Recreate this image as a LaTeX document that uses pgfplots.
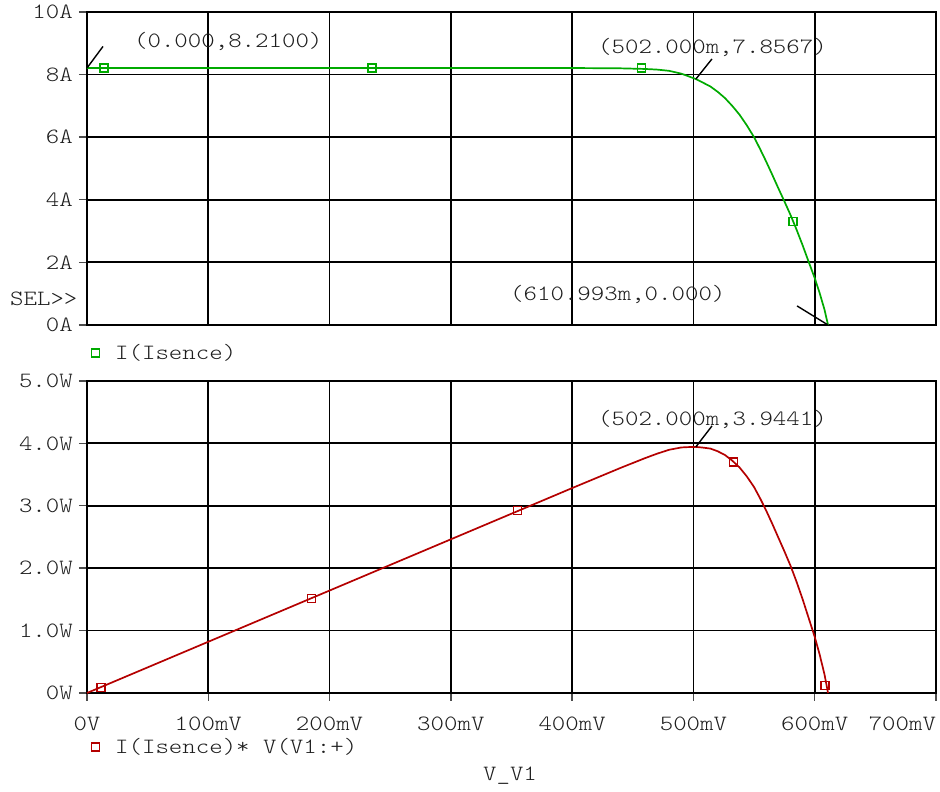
\documentclass[border=0pt]{standalone}
\usepackage{pgfplots}
\usepackage{pgfplotstable}
\pgfplotsset{compat=1.18}
\usepackage{fontspec}
\newfontfamily\pf[FakeStretch=1.175]{lmmonolt10-regular.otf}
\definecolor{cgreen}{RGB}{0,170,0}
\definecolor{cred}{RGB}{180,0,0}
\definecolor{ctxt}{RGB}{30,30,30}

\pgfplotstableread{
V I
0 8.21
100 8.21
200 8.21
300 8.21
400 8.21
440 8.20
460 8.18
470 8.16
480 8.12
490 8.03
495 7.96
502 7.8567
508 7.74
514 7.62
520 7.45
526 7.25
532 7.00
538 6.72
544 6.38
550 6.00
555 5.62
560 5.22
565 4.80
570 4.37
575 3.95
580 3.52
585 3.05
590 2.55
595 2.02
600 1.50
604 1.03
608 0.50
611 0.0
}\ivdata

\pgfplotstableread{
V P
0 0
100 0.821
200 1.642
300 2.463
400 3.284
440 3.608
460 3.763
470 3.835
480 3.898
490 3.935
495 3.940
502 3.9441
508 3.932
514 3.917
520 3.874
526 3.814
532 3.724
538 3.615
544 3.471
550 3.300
555 3.119
560 2.923
565 2.712
570 2.491
575 2.271
580 2.042
585 1.784
590 1.505
595 1.202
600 0.900
604 0.622
608 0.304
611 0
}\pvdata

\pgfplotsset{
  myaxis/.style={
    scale only axis, width=849pt, xmin=0, xmax=700, clip=false,
    axis line style={black, line width=1.8pt},
    grid=major, grid style={black, line width=1.8pt},
    major grid style={black, line width=1.8pt},
    tick align=outside, major tick length=8pt,
    tick style={black!70, line width=1.4pt},
    xtick pos=bottom, ytick pos=left,
    tick label style={font=\pf\fontsize{21.8}{24}\selectfont, text=ctxt, inner sep=0pt},
    yticklabel style={xshift=-6pt},
    xticklabel style={yshift=-16pt},
    xtick={0,100,...,700},
    legend style={draw=none, fill=none, inner sep=0pt, font=\pf\fontsize{21.8}{24}\selectfont, text=ctxt,
      nodes={inner sep=0pt}, /tikz/every odd column/.append style={column sep=16pt}},
    legend cell align=left,
    legend image code/.code={\draw[##1] plot coordinates {(4pt,0pt)};},
  },
}
\tikzset{
  anno/.style={font=\pf\fontsize{21.8}{24}\selectfont, text=ctxt, inner sep=0pt, anchor=west},
  cur/.style={black, line width=1.4pt},
}

\begin{document}
\begin{tikzpicture}[x=1pt,y=1pt]
\path[use as bounding box] (0,0) rectangle (940,792);

\begin{axis}[myaxis, at={(87pt,467pt)}, anchor=south west, height=313pt,
  ymin=0, ymax=10, ytick={0,2,...,10},
  yticklabels={0A,2A,4A,6A,8A,10A},
  xticklabels={}, xtick style={draw=none},
  legend style={at={(axis description cs:0.0047,-0.0895)}, anchor=west}]
\addplot[cgreen, line width=1.7pt, forget plot] table[x=V,y=I]{\ivdata};
\addplot[cgreen, only marks, mark=square, mark size=4pt, line width=1.3pt]
  coordinates {(14,8.21) (235,8.21) (457,8.21) (582,3.3)};
\addlegendentry{I(Isence)}
\draw[cur] (axis cs:0,8.21) -- (axis cs:13.2,8.90);
\node[anno] at (axis cs:38.7,9.07) {(0.000,8.2100)};
\draw[cur] (axis cs:502,7.8567) -- (axis cs:515.3,8.50);
\node[anno] at (axis cs:421.3,8.88) {(502.000m,7.8567)};
\draw[cur] (axis cs:611,0) -- (axis cs:585.4,0.61);
\node[anno] at (axis cs:348.8,0.99) {(610.993m,0.000)};
\node[anno] at (axis cs:-63.5,0.83) {SEL>>};
\end{axis}

\begin{axis}[myaxis, at={(87pt,99pt)}, anchor=south west, height=312pt,
  ymin=0, ymax=5, ytick={0,1,...,5},
  yticklabels={0W,1.0W,2.0W,3.0W,4.0W,5.0W},
  xticklabels={0V,100mV,200mV,300mV,400mV,500mV,600mV,{\hbox to 0pt{\hss 700mV}}},
  legend style={at={(axis description cs:0.0047,-0.173)}, anchor=west}]
\addplot[cred, line width=1.7pt, forget plot] table[x=V,y=P]{\pvdata};
\addplot[cred, only marks, mark=square, mark size=4pt, line width=1.3pt]
  coordinates {(11.5,0.09) (185,1.51) (355,2.92) (533,3.70) (608.5,0.12)};
\addlegendentry{I(Isence)* V(V1:+)}
\draw[cur] (axis cs:502,3.9441) -- (axis cs:515.3,4.28);
\node[anno] at (axis cs:421.3,4.39) {(502.000m,3.9441)};
\node[anno, anchor=center] at (axis cs:348.8,-1.33) {V\_V1};
\end{axis}
\end{tikzpicture}
\end{document}
